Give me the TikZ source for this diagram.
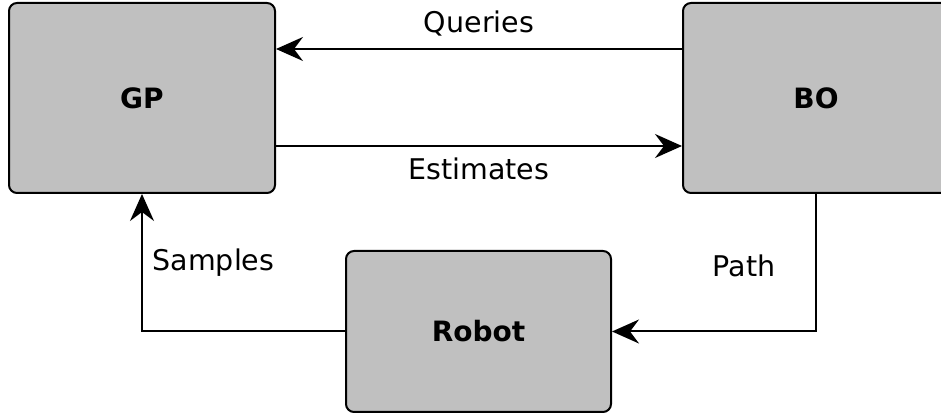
\documentclass[tikz,border=0pt]{standalone}
\usepackage{fontspec}
\setmainfont{DejaVu Sans}
\usetikzlibrary{arrows.meta}
\definecolor{boxgray}{RGB}{192,192,192}
\tikzset{
  block/.style={draw,fill=boxgray,rounded corners=8pt,line width=2pt,inner sep=0pt,
    font=\fontsize{28}{32}\selectfont\bfseries},
  lbl/.style={font=\fontsize{28.5}{32}\selectfont,inner sep=0pt},
}
\begin{document}
\begin{tikzpicture}[x=1pt,y=1pt,line width=2pt,>={Stealth[length=27pt,width=24pt,inset=9pt]}]
		\useasboundingbox (0,0) rectangle (941,414);
		% the three blocks
		\node[block,minimum width=266pt,minimum height=190pt] (gp) at (142,316) {GP};
		\node[block,minimum width=266pt,minimum height=190pt] (bo) at (816,316) {BO};
		\node[block,minimum width=265pt,minimum height=161pt] (robot) at (478.5,82.5) {Robot};
		% connectors
		\draw[->] ([yshift=49pt]bo.west) -- ([yshift=49pt]gp.east);
		\draw[->] ([yshift=-48pt]gp.east) -- ([yshift=-48pt]bo.west);
		\draw[->] (robot.west) -| (gp.south);
		\draw[->] (bo.south) |- (robot.east);
		% labels
		\node[lbl] (queries) at (479,390) {Queries};
		\node[lbl] (estimates) at (479,245) {Estimates};
		\node[lbl] (samples) at (213.5,151) {Samples};
		\node[lbl] (path) at (744,148.5) {Path};
\end{tikzpicture}
\end{document}
